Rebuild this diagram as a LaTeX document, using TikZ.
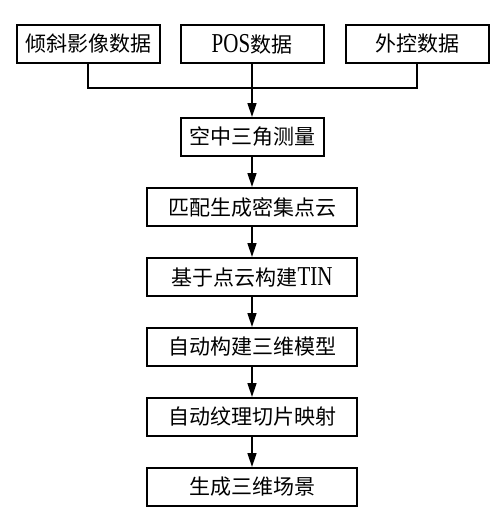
\documentclass[tikz,border=0pt]{standalone}
\usepackage{fontspec}
\usepackage{graphicx}
\setmainfont{Liberation Serif}
\newfontfamily\cjk{Noto Sans CJK SC}
\usetikzlibrary{positioning,arrows.meta}

\newcommand{\latintext}[1]{\scalebox{1}[1.3]{\rmfamily #1}}

\tikzset{
  databox/.style={draw, line width=2pt, minimum width=143pt, minimum height=38pt,
    inner sep=0pt, font=\cjk\fontsize{21}{24}\selectfont},
  stepbox/.style={databox, minimum width=210pt},
  flow/.style={line width=1.5pt, -{Triangle[width=9pt,length=14pt]}}
}

\begin{document}
\begin{tikzpicture}
    \useasboundingbox (0,0) rectangle (500pt,-527pt);

    \node[databox] (pos) at (252pt,-44pt) {\latintext{POS}数据};
    \node[databox, left=19pt of pos] (tilt) {倾斜影像数据};
    \node[databox, right=20pt of pos] (gcp) {外控数据};

    \node[databox, below=53pt of pos] (aerial) {空中三角测量};
    \node[stepbox, below=30pt of aerial] (dense) {匹配生成密集点云};
    \node[stepbox, below=30pt of dense] (tin) {基于点云构建\latintext{TIN}};
    \node[stepbox, below=30pt of tin] (model) {自动构建三维模型};
    \node[stepbox, below=30pt of model] (texture) {自动纹理切片映射};
    \node[stepbox, below=30pt of texture] (scene) {生成三维场景};

    \coordinate[below=24pt of pos.south] (bus);
    \draw[line width=1.5pt] (tilt.south) |- (bus) -| (gcp.south);
    \draw[flow] (pos.south) -- (aerial.north);
    \draw[flow] (aerial) -- (dense);
    \draw[flow] (dense) -- (tin);
    \draw[flow] (tin) -- (model);
    \draw[flow] (model) -- (texture);
    \draw[flow] (texture) -- (scene);
\end{tikzpicture}
\end{document}
